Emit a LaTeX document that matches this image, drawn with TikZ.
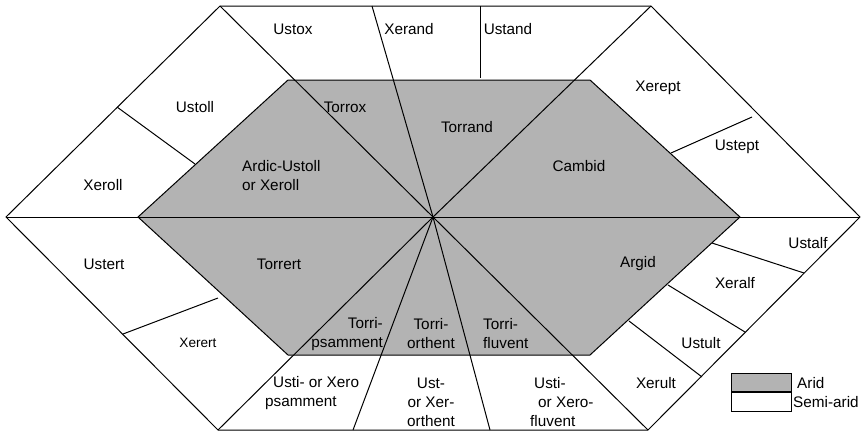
\documentclass[tikz,border=0pt]{standalone}
\usepackage{fontspec}
\setmainfont{Liberation Sans}
\definecolor{aridgray}{RGB}{179,179,179}
\begin{document}
\begin{tikzpicture}[x=1pt,y=-1pt,
  edge/.style={draw=black,line width=1pt,line join=miter},
  lbl/.style={inner sep=0pt,font=\fontsize{15.3}{19}\selectfont},
  sml/.style={inner sep=0pt,font=\fontsize{13.6}{17}\selectfont}]
\useasboundingbox (0,0) rectangle (862,432);
% outer hexagon
\coordinate (TL) at (220,6);
\coordinate (TR) at (651,6);
\coordinate (R) at (860,217);
\coordinate (BR) at (648,430);
\coordinate (BL) at (218,430);
\coordinate (L) at (6,217);
% inner hexagon
\coordinate (ITL) at (288,80);
\coordinate (ITR) at (590,80);
\coordinate (IR) at (740,217);
\coordinate (IBR) at (590,355);
\coordinate (IBL) at (288,355);
\coordinate (IL) at (138,217);
\coordinate (C) at (433,217);
% free ends of ray lines
\coordinate (T1) at (372,6);
\coordinate (B1) at (353,430);
\coordinate (B2) at (490,430);
% short separators
\coordinate (s1a) at (480,6);   \coordinate (s1b) at (480,78);
\coordinate (s2a) at (117,107); \coordinate (s2b) at (195,164);
\coordinate (s3a) at (671,153); \coordinate (s3b) at (752,117);
\coordinate (s4a) at (123,334); \coordinate (s4b) at (218,298);
\coordinate (s5a) at (712,243); \coordinate (s5b) at (804,273);
\coordinate (s6a) at (668,285); \coordinate (s6b) at (745,332);
\coordinate (s7a) at (629,321); \coordinate (s7b) at (702,377);

\path[edge,fill=white] (TL) -- (TR) -- (R) -- (BR) -- (BL) -- (L) -- cycle;
\path[edge,fill=aridgray] (ITL) -- (ITR) -- (IR) -- (IBR) -- (IBL) -- (IL) -- cycle;

\draw[edge] (L) -- (R);
\draw[edge] (TL) -- (C);
\draw[edge] (T1) -- (C);
\draw[edge] (TR) -- (C);
\draw[edge] (BL) -- (C);
\draw[edge] (B1) -- (C);
\draw[edge] (B2) -- (C);
\draw[edge] (BR) -- (C);
\draw[edge] (s1a) -- (s1b);
\draw[edge] (s2a) -- (s2b);
\draw[edge] (s3a) -- (s3b);
\draw[edge] (s4a) -- (s4b);
\draw[edge] (s5a) -- (s5b);
\draw[edge] (s6a) -- (s6b);
\draw[edge] (s7a) -- (s7b);

% labels
\node[lbl] (ustox) at (293,29) {Ustox};
\node[lbl] (xerand) at (409,29) {Xerand};
\node[lbl] (ustand) at (508,29) {Ustand};
\node[lbl] (ustoll) at (195,107) {Ustoll};
\node[lbl] (torrox) at (345,107) {Torrox};
\node[lbl] (xeroll) at (103,185) {Xeroll};
\node[lbl,align=left,anchor=west] (ardic) at (242,176) {Ardic-Ustoll\\or Xeroll};
\node[lbl] (torrand) at (467,127) {Torrand};
\node[lbl] (xerept) at (658,88) {Xerept};
\node[lbl] (ustept) at (737,147) {Ustept};
\node[lbl] (cambid) at (579,166) {Cambid};
\node[lbl] (ustert) at (104,264) {Ustert};
\node[lbl] (torrert) at (279,264) {Torrert};
\node[sml] (xerert) at (198,343) {Xerert};
\node[lbl,align=right,anchor=east] (tpsa) at (383,334) {Torri-\\psamment};
\node[lbl,align=center] (tort) at (431,334) {Torri-\\orthent};
\node[lbl,align=left,anchor=west] (tflu) at (483,334) {Torri-\\fluvent};
\node[lbl] (argid) at (638,264) {Argid};
\node[lbl] (ustalf) at (808,243) {Ustalf};
\node[lbl] (xeralf) at (735,283) {Xeralf};
\node[lbl] (ustult) at (701,343) {Ustult};
\node[lbl] (xerult) at (656,383) {Xerult};
\node[lbl,align=left,anchor=west] (upsa) at (265,393) {\hspace*{8pt}Usti- or Xero\\psamment};
\node[lbl,align=center] (uort) at (431,402) {Ust-\\or Xer-\\orthent};
\node[lbl,align=left,anchor=west] (uflu) at (530,402) {\hspace*{4pt}Usti-\\\hspace*{8pt}or Xero-\\fluvent};

% legend
\path[edge,fill=aridgray] (731,373) rectangle (791,392);
\path[edge,fill=white] (731,392) rectangle (791,411);
\draw[black,line width=2pt] (731,392) -- (791,392);
\node[lbl,anchor=west] (larid) at (797,383) {Arid};
\node[lbl,anchor=west] (lsemi) at (793,402) {Semi-arid};
\end{tikzpicture}
\end{document}
